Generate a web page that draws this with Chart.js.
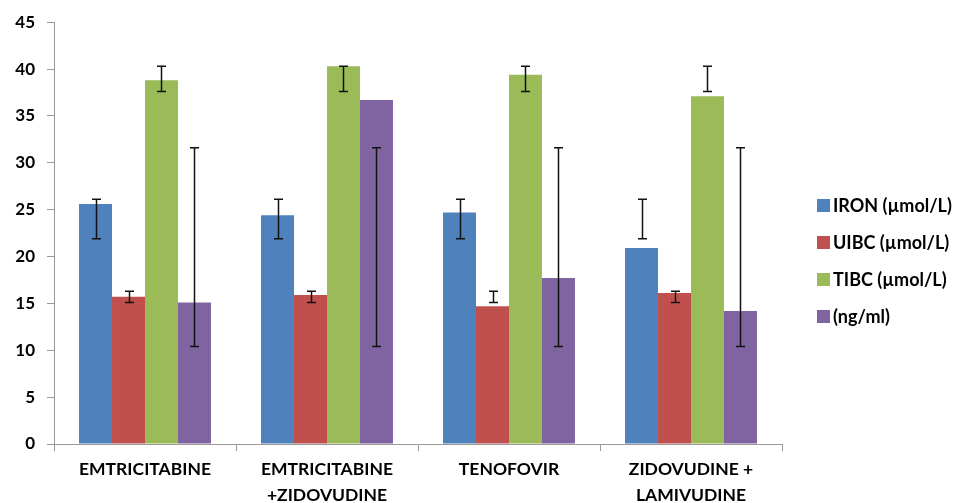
<!DOCTYPE html>
<html>
<head>
<meta charset="utf-8">
<script src="https://cdn.jsdelivr.net/npm/chart.js@4/dist/chart.umd.min.js"></script>
<style>
  html, body { margin: 0; padding: 0; background: #fff; }
  #wrap { width: 956px; height: 503px; }
</style>
</head>
<body>
<div id="wrap"><canvas id="cht"></canvas></div>
<script>
// categories and series
var categories = ['EMTRICITABINE', ['EMTRICITABINE', '+ZIDOVUDINE'], 'TENOFOVIR', ['ZIDOVUDINE +', 'LAMIVUDINE']];
var seriesNames = ['IRON (µmol/L)', 'UIBC (µmol/L)', 'TIBC (µmol/L)', '(ng/ml)'];
var seriesColours = ['#4F81BD', '#C0504D', '#9BBB59', '#8064A2'];

var iron = [25.6, 24.4, 24.7, 20.9];
var uibc = [15.7, 15.9, 14.7, 16.1];
var tibc = [38.8, 40.3, 39.4, 37.1];
var ngml = [15.1, 36.7, 17.7, 14.2];

// error bar ranges (low / high) as drawn in the picture
var ironErrLow  = [21.9, 21.9, 21.9, 21.9];
var ironErrHigh = [26.1, 26.1, 26.1, 26.1];
var uibcErrLow  = [15.1, 15.1, 15.1, 15.1];
var uibcErrHigh = [16.3, 16.3, 16.3, 16.3];
var tibcErrLow  = [37.6, 37.6, 37.6, 37.6];
var tibcErrHigh = [40.3, 40.3, 40.3, 40.3];
var ngErrLow    = [10.4, 10.4, 10.4, 10.4];
var ngErrHigh   = [31.6, 31.6, 31.6, 31.6];

var yTicks = [0, 5, 10, 15, 20, 25, 30, 35, 40, 45];

var values = [iron, uibc, tibc, ngml];
var errLow = [ironErrLow, uibcErrLow, tibcErrLow, ngErrLow];
var errHigh = [ironErrHigh, uibcErrHigh, tibcErrHigh, ngErrHigh];

var fontFamily = 'Lato, "Open Sans", sans-serif';

var datasets = [];
for (var i = 0; i < seriesNames.length; i++) {
    datasets.push({
        label: seriesNames[i],
        data: values[i],
        backgroundColor: seriesColours[i],
        borderWidth: 0,
        errLow: errLow[i],
        errHigh: errHigh[i]
    });
}

// draws the error bars through the y scale
var errorBars = {
    id: 'errorBars',
    afterDatasetsDraw: function (chart) {
        var ctx = chart.ctx;
        var y = chart.scales.y;
        ctx.save();
        ctx.strokeStyle = '#111';
        ctx.lineWidth = 1.5;
        chart.data.datasets.forEach(function (ds, di) {
            var meta = chart.getDatasetMeta(di);
            meta.data.forEach(function (bar, j) {
                var x = Math.round(bar.x) + 0.5;
                var yl = y.getPixelForValue(ds.errLow[j]);
                var yh = y.getPixelForValue(ds.errHigh[j]);
                ctx.beginPath();
                ctx.moveTo(x, yl); ctx.lineTo(x, yh);
                ctx.moveTo(x - 4.5, yl); ctx.lineTo(x + 4.5, yl);
                ctx.moveTo(x - 4.5, yh); ctx.lineTo(x + 4.5, yh);
                ctx.stroke();
            });
        });
        ctx.restore();
    }
};

// legend on the right, Excel style
var sideLegend = {
    id: 'sideLegend',
    afterDraw: function (chart) {
        var ctx = chart.ctx;
        var area = chart.chartArea;
        var x0 = area.right + 35;
        var y0 = 205;
        var step = 37;
        ctx.save();
        ctx.font = 'bold 18px ' + fontFamily;
        ctx.textBaseline = 'middle';
        chart.data.datasets.forEach(function (ds, i) {
            var cy = y0 + i * step;
            ctx.fillStyle = ds.backgroundColor;
            ctx.fillRect(x0, cy - 6, 13, 13);
            ctx.fillStyle = '#000';
            ctx.fillText(ds.label, x0 + 16, cy + 1);
        });
        ctx.restore();
    }
};

new Chart(document.getElementById('cht'), {
    type: 'bar',
    data: { labels: categories, datasets: datasets },
    plugins: [errorBars, sideLegend],
    options: {
        responsive: true,
        maintainAspectRatio: false,
        animation: false,
        layout: { padding: { top: 21, right: 174, left: 0, bottom: 0 } },
        datasets: { bar: { categoryPercentage: 0.725, barPercentage: 1 } },
        plugins: { legend: { display: false }, tooltip: { enabled: false } },
        scales: {
            x: {
                grid: { display: true, drawOnChartArea: false, offset: true, tickLength: 7, color: '#999' },
                border: { color: '#999', width: 1 },
                ticks: { color: '#000', padding: 5, maxRotation: 0, autoSkip: false,
                         font: { family: fontFamily, size: 17.5, weight: 'bold', lineHeight: 1.5 } },
                afterFit: function (s) { s.height = 59; }
            },
            y: {
                min: 0, max: 45,
                afterBuildTicks: function (s) { s.ticks = yTicks.map(function (v) { return { value: v }; }); },
                grid: { display: true, drawOnChartArea: false, tickLength: 7, color: '#999' },
                border: { color: '#999', width: 1 },
                ticks: { color: '#000', padding: 12,
                         font: { family: fontFamily, size: 17, weight: 'bold' } },
                afterFit: function (s) { s.width = 54; }
            }
        }
    }
});
</script>
</body>
</html>
